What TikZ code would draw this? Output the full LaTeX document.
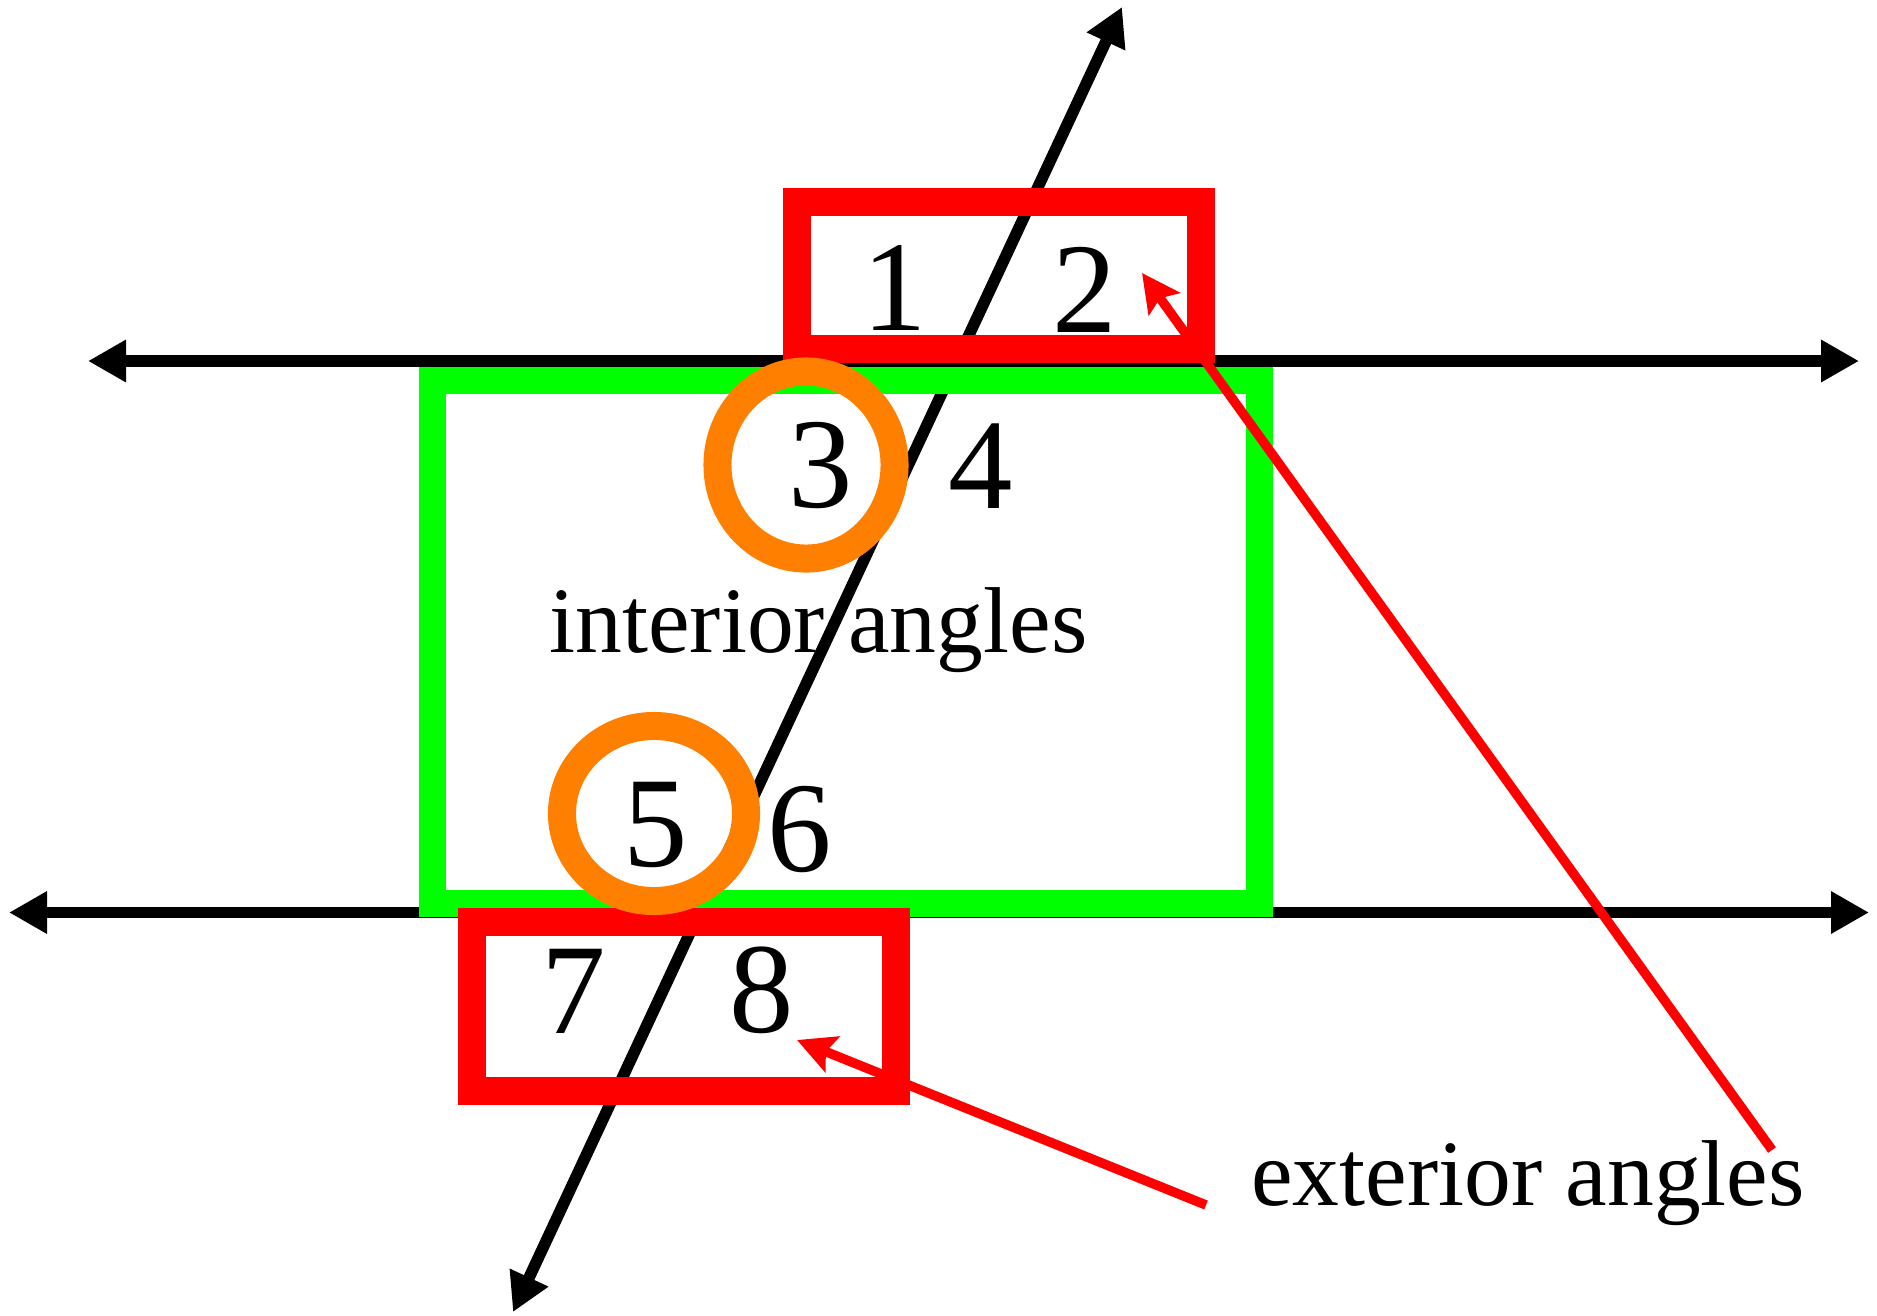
\documentclass[tikz,border=0pt]{standalone}
\usepackage{fontspec}
\setmainfont{Liberation Serif}
\usetikzlibrary{arrows.meta}
\definecolor{ored}{RGB}{255,0,0}
\definecolor{ogreen}{RGB}{0,255,0}
\definecolor{oorange}{RGB}{255,128,0}
\tikzset{
  blackline/.style={draw=black, line width=0.115cm, {Triangle[length=0.38cm,width=0.4cm]}-{Triangle[length=0.38cm,width=0.4cm]}},
  greenbox/.style={draw=ogreen, line width=0.27cm},
  redbox/.style={draw=ored, line width=0.28cm},
  ring/.style={draw=oorange, line width=0.28cm},
  pointer/.style={draw=ored, line width=0.095cm, -{Stealth[length=0.38cm,width=0.38cm,inset=0.07cm]}},
  digit/.style={anchor=base, inner sep=0pt, font=\fontsize{36.6}{40}\selectfont},
  label/.style={anchor=base, inner sep=0pt, font=\fontsize{26.6}{30}\selectfont}
}
\begin{document}
\begin{tikzpicture}[x=0.01cm, y=-0.01cm]
\useasboundingbox (0,0) rectangle (1877,1315);
% named end points
\coordinate (uL) at (88,361);
\coordinate (uR) at (1859,361);
\coordinate (lL) at (9,912.5);
\coordinate (lR) at (1869,912.5);
\coordinate (tT) at (1122,7);
\coordinate (tB) at (513,1312);
% lines
\draw[blackline] (uL) -- (uR);
\draw[blackline] (lL) -- (lR);
\draw[blackline] (tB) -- (tT);
% boxes
\draw[greenbox] (432.5,380) rectangle (1259,903);
\draw[redbox] (797,202) rectangle (1201,349);
\draw[redbox] (471.5,921.5) rectangle (896,1091);
% rings
\draw[ring] (806,465) ellipse [x radius=0.885cm, y radius=0.935cm];
\draw[ring] (654,813.5) ellipse [x radius=0.92cm, y radius=0.875cm];
% numbers
\node[digit] (n1) at (895,330) {1};
\node[digit] (n2) at (1085,332) {2};
\node[digit] (n3) at (821,507) {3};
\node[digit] (n4) at (981,508) {4};
\node[digit] (n5) at (656,866) {5};
\node[digit] (n6) at (800,871) {6};
\node[digit] (n7) at (574,1033) {7};
\node[digit] (n8) at (762,1032) {8};
% labels
\node[label] (interior) at (818.5,652) {interior angles};
\node[label] (exterior) at (1528,1205) {exterior angles};
% pointers
\coordinate (p1s) at (1772,1150);
\coordinate (p1e) at (1142,273);
\coordinate (p2s) at (1206,1205);
\coordinate (p2e) at (797,1040);
\draw[pointer] (p1s) -- (p1e);
\draw[pointer] (p2s) -- (p2e);
\end{tikzpicture}
\end{document}
